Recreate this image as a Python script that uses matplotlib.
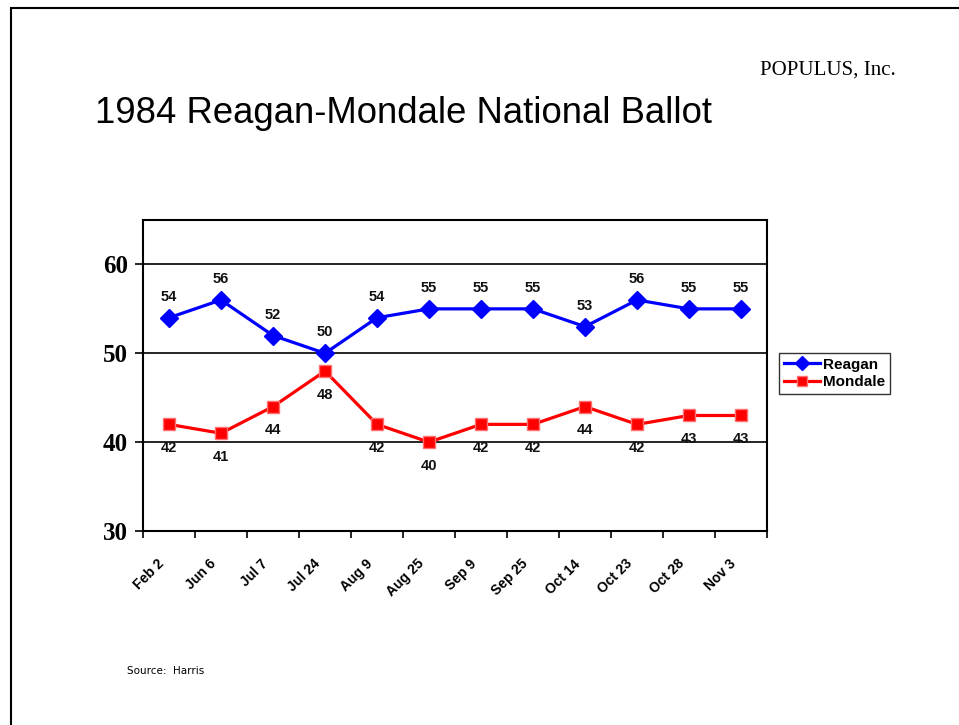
import matplotlib
matplotlib.use("Agg")
import matplotlib.pyplot as plt
from matplotlib.patches import Rectangle
from matplotlib.transforms import ScaledTranslation
import numpy as np

# poll dates and results
dates = ["Feb 2", "Jun 6", "Jul 7", "Jul 24", "Aug 9", "Aug 25",
         "Sep 9", "Sep 25", "Oct 14", "Oct 23", "Oct 28", "Nov 3"]
reagan = [54, 56, 52, 50, 54, 55, 55, 55, 53, 56, 55, 55]
mondale = [42, 41, 44, 48, 42, 40, 42, 42, 44, 42, 43, 43]
yticks = [30, 40, 50, 60]

W, H = 959, 725
fig = plt.figure(figsize=(W / 100, H / 100), dpi=100)

# slide border (left + top)
fig.add_artist(Rectangle((11 / W, -0.05), 1.2, 1 - 8 / H + 0.05,
                         transform=fig.transFigure, fill=False,
                         edgecolor="black", linewidth=1.5))

ax = fig.add_axes([143 / W, 1 - 531 / H, (767 - 143) / W, (531 - 220) / H])

x = np.arange(len(dates))
ax.plot(x, reagan, color="#0000ff", lw=2.3, marker="D", ms=9.5,
        mfc="#0000ff", mec="#0000ff", label="Reagan", zorder=3)
ax.plot(x, mondale, color="#ff0000", lw=2.3, marker="s", ms=9,
        mfc="#ff0000", mec="#ff7070", mew=1, label="Mondale", zorder=3)

lab_font = dict(fontsize=10.5, fontweight="bold", family="Liberation Sans",
                ha="center", color="#111111")
for xi, v in zip(x, reagan):
    ax.annotate(str(v), (xi, v), xytext=(0, 15), textcoords="offset points",
                va="center", **lab_font)
for xi, v in zip(x, mondale):
    ax.annotate(str(v), (xi, v), xytext=(0, -17), textcoords="offset points",
                va="center", **lab_font)

ax.set_xlim(-0.5, len(dates) - 0.5)
ax.set_ylim(30, 65)
ax.set_yticks(yticks)
ax.set_yticklabels([str(t) for t in yticks], family="Liberation Serif",
                   fontweight="bold", fontsize=18)
for t in yticks[1:]:
    ax.axhline(t, color="black", lw=1.2, zorder=1)

ax.set_xticks(np.arange(len(dates) + 1) - 0.5)
ax.set_xticklabels([])
ax.set_xticks(x, minor=True)
ax.set_xticklabels(dates, minor=True, rotation=45, ha="right",
                   rotation_mode="anchor", fontsize=10,
                   family="Liberation Sans", fontweight="bold")
ax.tick_params(axis="x", which="minor", length=0, pad=18.5)
ax.tick_params(axis="x", which="major", direction="out", length=5, width=1.2)
ax.tick_params(axis="y", direction="out", length=6, width=1.2, pad=5)
for lbl in ax.get_xticklabels(minor=True):
    lbl.set_transform(lbl.get_transform()
                      + ScaledTranslation(-8.6 / 72, 0, fig.dpi_scale_trans))
for s in ax.spines.values():
    s.set_linewidth(1.5)

leg = ax.legend(loc="upper left", bbox_to_anchor=(779 / W, 1 - 353 / H),
                bbox_transform=fig.transFigure, frameon=True, fancybox=False,
                borderpad=0.3, labelspacing=0.25, handlelength=2.4,
                handletextpad=0.2, borderaxespad=0, markerscale=0.8,
                prop=dict(family="Liberation Sans", weight="bold", size=11))
leg.get_frame().set_edgecolor("black")
leg.get_frame().set_linewidth(1.0)

fig.text(95 / W, 1 - 123 / H, "1984 Reagan-Mondale National Ballot",
         family="Liberation Sans", fontsize=26.3, ha="left", va="baseline")
fig.text(896 / W, 1 - 75 / H, "POPULUS, Inc.", family="Liberation Serif",
         fontsize=15, ha="right", va="baseline")
fig.text(127 / W, 1 - 674 / H, "Source:  Harris", family="DejaVu Sans",
         fontsize=7.5, ha="left", va="baseline")

fig.savefig("out.png", dpi=100)
